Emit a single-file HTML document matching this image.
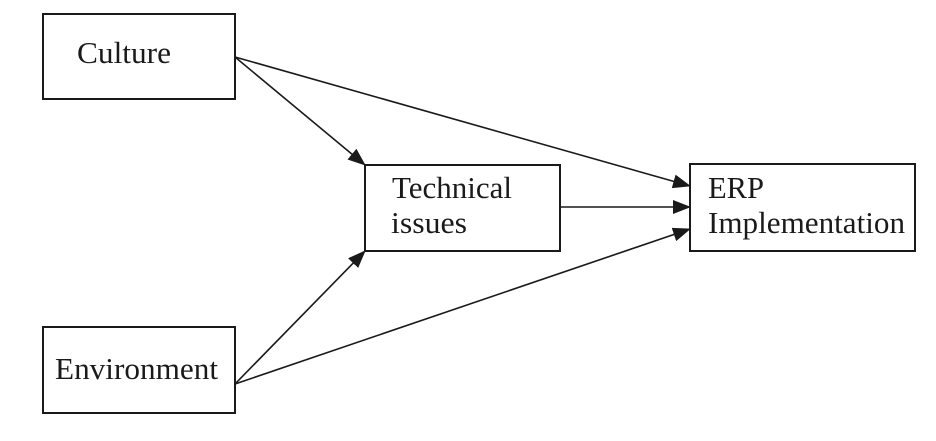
<!DOCTYPE html>
<html><head><style>body{margin:0;background:#fff}</style></head><body>
<svg width="936" height="441" xmlns="http://www.w3.org/2000/svg" style="display:block">
<defs><marker id="a" markerWidth="18" markerHeight="14" refX="17" refY="7" orient="auto" markerUnits="userSpaceOnUse"><path d="M0,0 L18,7 L0,14 z" fill="#1a1a1a"/></marker></defs>
<g fill="none" stroke="#1a1a1a" stroke-width="2">
<rect x="43" y="14" width="192" height="85"/>
<rect x="365" y="165" width="195" height="86"/>
<rect x="690" y="164" width="225" height="87"/>
<rect x="43" y="327" width="192" height="86"/>
<g marker-end="url(#a)" stroke-width="1.6">
<line x1="235" y1="57" x2="365" y2="165"/>
<line x1="235" y1="57" x2="690" y2="186"/>
<line x1="560" y1="207" x2="690" y2="207"/>
<line x1="235" y1="384" x2="365" y2="251"/>
<line x1="235" y1="384" x2="690" y2="229"/>
</g></g>
<g font-family="Liberation Serif, serif" font-size="31" fill="#1a1a1a">
<text x="77" y="63" textLength="94" lengthAdjust="spacingAndGlyphs">Culture</text>
<text x="392" y="198" textLength="120" lengthAdjust="spacingAndGlyphs">Technical</text>
<text x="391" y="233" textLength="76" lengthAdjust="spacingAndGlyphs">issues</text>
<text x="708" y="198" textLength="56" lengthAdjust="spacingAndGlyphs">ERP</text>
<text x="708" y="233" textLength="197" lengthAdjust="spacingAndGlyphs">Implementation</text>
<text x="55" y="379" textLength="163" lengthAdjust="spacingAndGlyphs">Environment</text>
</g>
</svg>
</body></html>
